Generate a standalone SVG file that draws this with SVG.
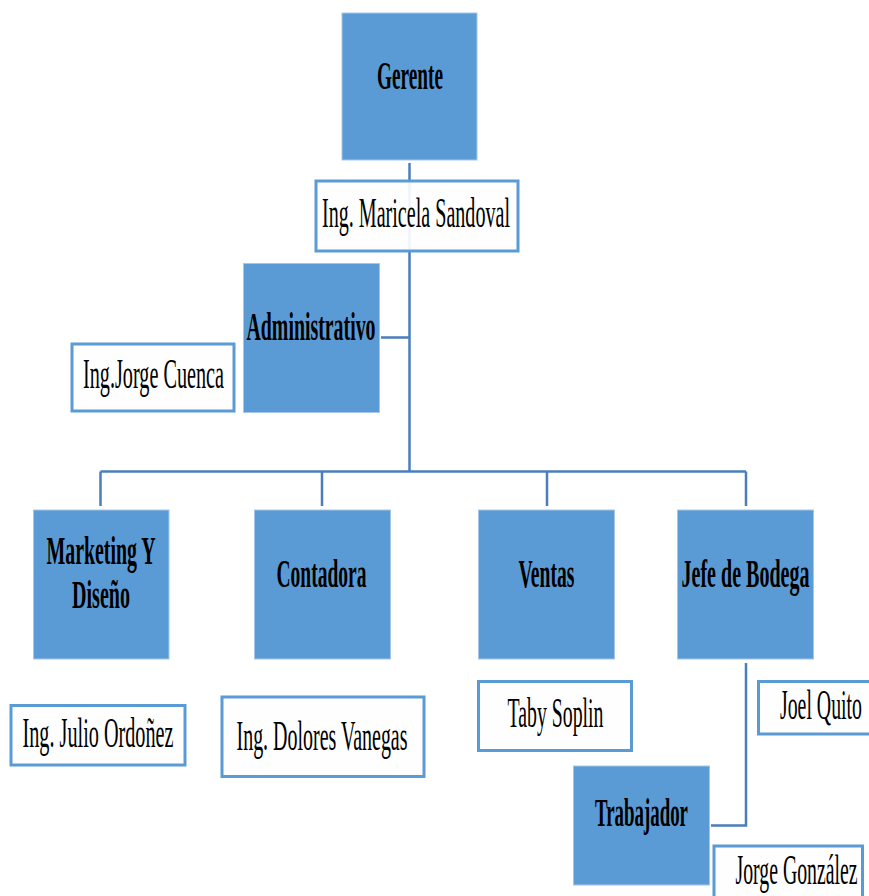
<svg xmlns="http://www.w3.org/2000/svg" width="869" height="896" viewBox="0 0 869 896">
<style>
.role{fill:#5B9BD5;stroke:#A4C6EA;stroke-width:1}
.name{fill:#FEFEFE;stroke:#5B9BD5;stroke-width:3}
.name2{fill:#FEFEFE;fill-opacity:0.92;stroke:#5B9BD5;stroke-width:3}
.b{font-family:"Liberation Serif","Times New Roman",serif;font-weight:bold;font-size:41px;fill:#000}
.r{font-family:"Liberation Serif","Times New Roman",serif;font-size:42px;fill:#000}
.c{fill:none;stroke:#4A7EBB;stroke-width:2.5}
</style>
<rect width="869" height="896" fill="#fff"/>
<g id="connectors">
<path class="c" d="M409.5 163 V471.5"/>
<path class="c" d="M381 337.5 H409.5"/>
<path class="c" d="M100.5 471.5 H746"/>
<path class="c" d="M100.5 471.5 V506 M322 471.5 V506 M547 471.5 V506 M746 471.5 V506"/>
<path class="c" d="M746 663 V825.5 H711"/>
</g>
<g id="gerente">
<rect class="role" x="342" y="13" width="135" height="147"/>
<text class="b" x="377" y="89" textLength="66" lengthAdjust="spacingAndGlyphs">Gerente</text>
</g>
<g id="maricela">
<rect class="name2" x="316" y="181" width="202" height="70"/>
<text class="r" x="322" y="227" textLength="188" lengthAdjust="spacingAndGlyphs">Ing. Maricela Sandoval</text>
</g>
<g id="administrativo">
<rect class="role" x="243.5" y="263.5" width="136" height="149"/>
<text class="b" x="246.5" y="340" textLength="129" lengthAdjust="spacingAndGlyphs">Administrativo</text>
</g>
<g id="cuenca">
<rect class="name" x="72" y="344" width="162" height="67"/>
<text class="r" x="83" y="388" textLength="141" lengthAdjust="spacingAndGlyphs">Ing.Jorge Cuenca</text>
</g>
<g id="marketing">
<rect class="role" x="33.5" y="510" width="135.5" height="149"/>
<text class="b" x="46.5" y="564" textLength="109" lengthAdjust="spacingAndGlyphs">Marketing Y</text>
<text class="b" x="72" y="608" textLength="58" lengthAdjust="spacingAndGlyphs">Diseño</text>
</g>
<g id="contadora">
<rect class="role" x="254.5" y="510" width="136" height="149"/>
<text class="b" x="276.5" y="587" textLength="90" lengthAdjust="spacingAndGlyphs">Contadora</text>
</g>
<g id="ventas">
<rect class="role" x="478.5" y="510" width="136" height="149"/>
<text class="b" x="518.5" y="587" textLength="56" lengthAdjust="spacingAndGlyphs">Ventas</text>
</g>
<g id="jefe">
<rect class="role" x="677.5" y="510" width="136" height="149"/>
<text class="b" x="681.5" y="587" textLength="128" lengthAdjust="spacingAndGlyphs">Jefe de Bodega</text>
</g>
<g id="julio">
<rect class="name" x="11" y="705.5" width="174" height="59.5"/>
<text class="r" x="22.5" y="747" textLength="151" lengthAdjust="spacingAndGlyphs">Ing. Julio Ordoñez</text>
</g>
<g id="dolores">
<rect class="name" x="222" y="697" width="202" height="79.5"/>
<text class="r" x="236.5" y="750" textLength="171" lengthAdjust="spacingAndGlyphs">Ing. Dolores Vanegas</text>
</g>
<g id="taby">
<rect class="name" x="478.5" y="681.5" width="153" height="69"/>
<text class="r" x="507.5" y="727" textLength="96" lengthAdjust="spacingAndGlyphs">Taby Soplin</text>
</g>
<g id="joel">
<rect class="name" x="758.5" y="681.5" width="115" height="52.5"/>
<text class="r" x="780" y="718.5" textLength="82" lengthAdjust="spacingAndGlyphs">Joel Quito</text>
</g>
<g id="trabajador">
<rect class="role" x="573.5" y="766" width="136" height="119"/>
<text class="b" x="595" y="826" textLength="93" lengthAdjust="spacingAndGlyphs">Trabajador</text>
</g>
<g id="gonzalez">
<rect class="name" x="714" y="846" width="148.5" height="60"/>
<text class="r" x="735.5" y="883.5" textLength="122" lengthAdjust="spacingAndGlyphs">Jorge González</text>
</g>
</svg>
